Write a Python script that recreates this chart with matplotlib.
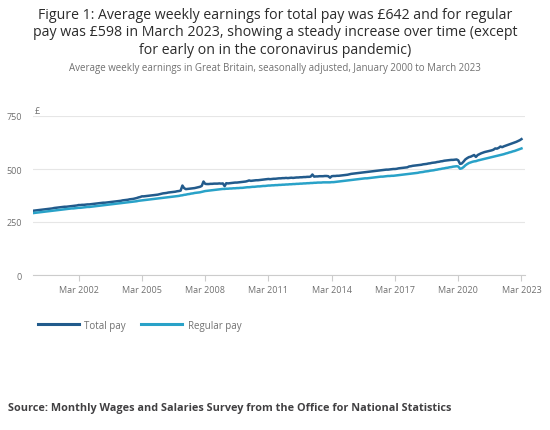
import matplotlib
matplotlib.use("Agg")
import matplotlib.pyplot as plt
import pandas as pd

plt.rcParams['font.family'] = ['Open Sans', 'DejaVu Sans']

title = ("Figure 1: Average weekly earnings for total pay was £642 and for regular\n"
         "pay was £598 in March 2023, showing a steady increase over time (except\n"
         "for early on in the coronavirus pandemic)")
subtitle = "Average weekly earnings in Great Britain, seasonally adjusted, January 2000 to March 2023"
source = "Source: Monthly Wages and Salaries Survey from the Office for National Statistics"

start_month = "2000-01-01"
series_names = ["Total pay", "Regular pay"]

total_pay = [
    303, 304, 305, 306, 307, 308, 309, 310, 311, 312, 313, 314,   # 2000
    316, 317, 318, 319, 320, 321, 322, 322, 323, 324, 325, 326,   # 2001
    327, 328, 330, 330, 331, 331, 332, 333, 333, 334, 335, 336,   # 2002
    337, 338, 339, 340, 341, 341, 342, 343, 344, 345, 346, 347,   # 2003
    348, 349, 350, 352, 353, 354, 355, 357, 358, 359, 361, 363,   # 2004
    366, 368, 371, 371, 372, 373, 374, 375, 376, 377, 378, 379,   # 2005
    381, 383, 385, 386, 387, 389, 390, 391, 392, 393, 395, 396,   # 2006
    398, 422, 410, 405, 406, 407, 408, 409, 410, 412, 414, 416,   # 2007
    420, 441, 430, 429, 429, 430, 430, 431, 431, 431, 432, 431,   # 2008
    432, 419, 433, 432, 433, 434, 435, 436, 436, 437, 438, 439,   # 2009
    440, 441, 443, 446, 444, 445, 446, 447, 447, 448, 449, 450,   # 2010
    451, 452, 453, 452, 453, 454, 454, 455, 456, 456, 457, 457,   # 2011
    458, 457, 458, 459, 458, 459, 460, 460, 461, 461, 462, 462,   # 2012
    463, 463, 464, 474, 464, 465, 465, 466, 466, 466, 467, 467,   # 2013
    466, 459, 466, 467, 467, 468, 468, 469, 470, 471, 472, 473,   # 2014
    475, 477, 478, 479, 480, 481, 482, 483, 484, 485, 486, 487,   # 2015
    488, 489, 490, 491, 492, 493, 494, 495, 496, 497, 497, 498,   # 2016
    499, 500, 500, 501, 503, 504, 505, 506, 507, 508, 512, 513,   # 2017
    515, 516, 517, 518, 519, 520, 522, 523, 524, 526, 527, 529,   # 2018
    530, 531, 533, 534, 536, 537, 539, 540, 541, 542, 543, 543,   # 2019
    544, 545, 541, 524, 526, 535, 545, 551, 556, 558, 562, 566,   # 2020
    557, 566, 570, 574, 577, 580, 582, 584, 586, 588, 591, 597,   # 2021
    596, 600, 606, 603, 607, 610, 613, 616, 619, 622, 625, 628,   # 2022
    632, 636, 641,                                                # 2023
]

regular_pay = [
    292, 293, 294, 295, 296, 297, 298, 299, 300, 301, 302, 303,   # 2000
    304, 305, 306, 307, 308, 309, 310, 311, 312, 313, 314, 314,   # 2001
    315, 316, 317, 317, 318, 319, 320, 321, 321, 322, 323, 324,   # 2002
    325, 326, 327, 328, 329, 330, 331, 332, 333, 334, 335, 336,   # 2003
    337, 338, 339, 340, 341, 342, 343, 344, 345, 346, 347, 348,   # 2004
    350, 351, 352, 353, 354, 355, 356, 357, 358, 359, 360, 361,   # 2005
    362, 363, 364, 365, 366, 367, 368, 369, 370, 371, 372, 373,   # 2006
    375, 376, 378, 379, 381, 382, 384, 385, 387, 388, 389, 390,   # 2007
    392, 394, 396, 397, 398, 399, 400, 401, 402, 403, 404, 405,   # 2008
    406, 406, 407, 407, 408, 408, 409, 409, 410, 410, 411, 411,   # 2009
    412, 413, 414, 414, 415, 416, 416, 417, 418, 418, 419, 420,   # 2010
    420, 421, 422, 422, 423, 423, 424, 424, 425, 425, 426, 426,   # 2011
    427, 427, 428, 428, 429, 429, 430, 430, 431, 431, 432, 432,   # 2012
    433, 433, 434, 434, 435, 435, 436, 436, 436, 437, 437, 437,   # 2013
    437, 437, 438, 438, 439, 440, 441, 442, 443, 444, 445, 446,   # 2014
    447, 448, 449, 450, 451, 452, 453, 454, 455, 456, 456, 457,   # 2015
    458, 459, 460, 461, 462, 463, 464, 464, 465, 466, 467, 467,   # 2016
    468, 468, 469, 470, 471, 472, 473, 474, 475, 476, 477, 478,   # 2017
    479, 480, 481, 482, 484, 485, 486, 488, 489, 490, 492, 493,   # 2018
    494, 496, 497, 499, 500, 502, 503, 505, 506, 508, 509, 511,   # 2019
    512, 513, 512, 501, 503, 509, 517, 523, 528, 531, 534, 536,   # 2020
    537, 540, 542, 544, 546, 548, 550, 552, 554, 556, 558, 560,   # 2021
    562, 564, 566, 568, 570, 573, 575, 578, 580, 583, 585, 588,   # 2022
    591, 594, 597,                                                # 2023
]

x_tick_labels = ["Mar 2002", "Mar 2005", "Mar 2008", "Mar 2011",
                 "Mar 2014", "Mar 2017", "Mar 2020", "Mar 2023"]
y_ticks = [0, 250, 500, 750]

dates = pd.date_range(start_month, periods=len(total_pay), freq="MS")
tick_dates = pd.to_datetime(x_tick_labels, format="%b %Y")

c_total = "#225b8c"
c_regular = "#29a2c8"
grey_text = "#707070"
grid_col = "#e6e6e6"

fig = plt.figure(figsize=(5.5, 4.31), dpi=100)
ax = fig.add_axes([33/550, 1 - 276/431, (525 - 33)/550, (276 - 117)/431])

ax.plot(dates, total_pay, color=c_total, lw=1.8, label=series_names[0],
        solid_joinstyle="round")
ax.plot(dates, regular_pay, color=c_regular, lw=1.8, label=series_names[1],
        solid_joinstyle="round")

ax.set_ylim(0, 750)
ax.set_xlim(dates[0], pd.Timestamp("2023-05-01"))
ax.set_yticks(y_ticks)
ax.set_yticklabels([str(v) for v in y_ticks])
ax.set_xticks(tick_dates)
ax.set_xticklabels(x_tick_labels)

for s in ["top", "right", "left"]:
    ax.spines[s].set_visible(False)
ax.spines["bottom"].set_color("#cccccc")
ax.spines["bottom"].set_linewidth(0.8)
ax.grid(axis="y", color=grid_col, lw=0.8)
ax.set_axisbelow(True)
ax.tick_params(axis="y", length=0, pad=8, labelsize=6.5, labelcolor=grey_text)
ax.tick_params(axis="x", length=4, width=0.8, color="#cccccc", pad=3,
               labelsize=6.5, labelcolor=grey_text)

ax.text(0.004, 1.005, "£", transform=ax.transAxes, fontsize=6.5, color=grey_text,
        ha="left", va="bottom")

fig.text(0.5, 1 - 33/431, title, ha="center", va="center", fontsize=10.2,
         color="#2b2b2b", linespacing=1.25)
fig.text(0.5, 1 - 69/431, subtitle, ha="center", va="center", fontsize=7.0,
         color=grey_text)
fig.text(8/550, 1 - 409/431, source, ha="left", va="center", fontsize=7.8,
         fontweight="bold", color="#414042")

leg = ax.legend(loc="center left", bbox_to_anchor=(38/550, 1 - 326/431),
                bbox_transform=fig.transFigure, ncol=2, frameon=False,
                fontsize=7.0, handlelength=4.2, handletextpad=0.55,
                columnspacing=1.6, borderaxespad=0, borderpad=0)
for t in leg.get_texts():
    t.set_color(grey_text)
for l in leg.get_lines():
    l.set_linewidth(2.2)

fig.savefig("out.png", dpi=100)
